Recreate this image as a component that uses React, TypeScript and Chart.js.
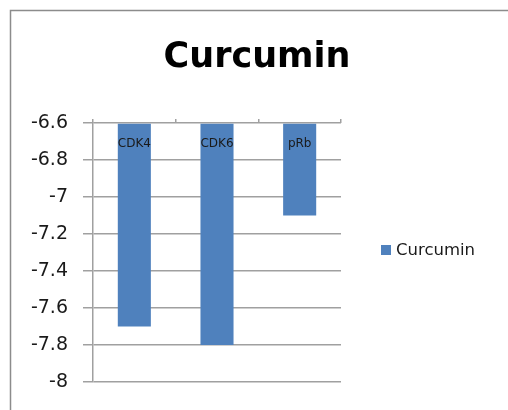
import React, { useEffect, useRef } from "react";
import { Chart, registerables } from "chart.js";

Chart.register(...registerables);

const categories = ["CDK4", "CDK6", "pRb"];
const seriesName = "Curcumin";
const seriesValues = [-7.7, -7.8, -7.1];
const chartTitle = "Curcumin";
const yMin = -8;
const yMax = -6.6;
const yStep = 0.2;

const FONT = "'DejaVu Sans', sans-serif";
const BAR_COLOR = "#4f81bd";
const GRID_COLOR = "#a0a0a0";

const decorPlugin = {
  id: "decor",
  beforeDraw(chart: any) {
    const ctx = chart.ctx;
    ctx.save();
    ctx.fillStyle = "#ffffff";
    ctx.fillRect(0, 0, chart.width, chart.height);
    ctx.strokeStyle = "#8c8c8c";
    ctx.lineWidth = 1.5;
    ctx.beginPath();
    ctx.moveTo(10.5, chart.height + 2);
    ctx.lineTo(10.5, 10.5);
    ctx.lineTo(chart.width + 2, 10.5);
    ctx.stroke();
    ctx.restore();
  },
  afterDraw(chart: any) {
    const ctx = chart.ctx;
    const area = chart.chartArea;
    const xs = chart.scales.x;
    ctx.save();
    // title
    ctx.fillStyle = "#000000";
    ctx.font = `bold 35px ${FONT}`;
    ctx.textAlign = "center";
    ctx.textBaseline = "alphabetic";
    ctx.fillText(chartTitle, 257, 67);
    // category labels inside bars
    ctx.font = `12px ${FONT}`;
    ctx.fillStyle = "#1a1a1a";
    ctx.textBaseline = "middle";
    categories.forEach((c, i) => {
      ctx.fillText(c, xs.getPixelForValue(i), area.top + 21);
    });
    // legend
    const ds = chart.data.datasets[0];
    ctx.fillStyle = ds.backgroundColor;
    ctx.fillRect(381, 245, 10, 10);
    ctx.fillStyle = "#1a1a1a";
    ctx.font = `16.5px ${FONT}`;
    ctx.textAlign = "left";
    ctx.fillText(ds.label, 396, 251);
    ctx.restore();
  },
};

export default function App() {
  const ref = useRef<HTMLCanvasElement>(null);
  useEffect(() => {
    document.body.style.margin = "0";
    document.body.style.overflow = "hidden";
    const chart = new Chart(ref.current!, {
      type: "bar",
      data: {
        labels: categories,
        datasets: [
          {
            label: seriesName,
            data: seriesValues,
            backgroundColor: BAR_COLOR,
            barPercentage: 0.4,
            categoryPercentage: 1,
            base: yMax,
          },
        ],
      },
      options: {
        animation: false,
        responsive: false,
        layout: { padding: { left: 10, top: 119, right: 167, bottom: 28 } },
        plugins: {
          legend: { display: false },
          title: { display: false },
          tooltip: { enabled: false },
        },
        scales: {
          x: {
            position: "top",
            offset: true,
            grid: {
              offset: true,
              drawOnChartArea: false,
              drawTicks: true,
              tickLength: 4,
              color: GRID_COLOR,
              lineWidth: 1.5,
            },
            border: { display: false },
            ticks: { display: false },
            afterFit: (s: any) => {
              s.height = 4;
            },
          },
          y: {
            min: yMin,
            max: yMax,
            ticks: {
              stepSize: yStep,
              color: "#1a1a1a",
              font: { family: FONT, size: 19 },
              padding: 15,
              callback: (v: any) => String(parseFloat(Number(v).toFixed(1))),
            },
            grid: {
              color: GRID_COLOR,
              lineWidth: 1.5,
              tickLength: 10,
            },
            border: { color: GRID_COLOR, width: 1.5 },
            afterFit: (s: any) => {
              s.width = 83;
            },
          },
        },
      },
      plugins: [decorPlugin],
    });
    return () => chart.destroy();
  }, []);
  return <canvas ref={ref} width={508} height={410} style={{ display: "block" }} />;
}
